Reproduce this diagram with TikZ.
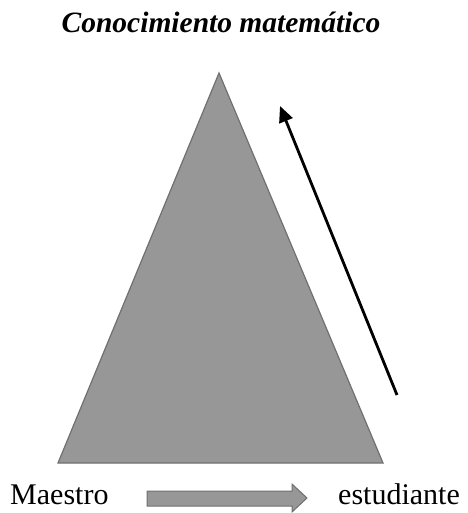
\documentclass[tikz,border=0pt]{standalone}
\usepackage{fontspec}
\setmainfont{Liberation Serif}
\usetikzlibrary{arrows.meta}
\definecolor{trifill}{HTML}{979797}
\definecolor{triline}{HTML}{707070}
\tikzset{
  shape3/.style={fill=trifill, draw=triline, line width=1.2pt, line join=miter},
  lbl/.style={inner sep=0pt, anchor=base west, font=\fontsize{30}{34}\selectfont},
}
\begin{document}
\begin{tikzpicture}[x=1pt,y=-1pt]
\useasboundingbox (0,0) rectangle (467,513);
% title
\node[inner sep=0pt, anchor=base, font=\fontsize{29.5}{34}\selectfont\bfseries\itshape] (title) at (221,33) {Conocimiento matemático};
% triangle
\coordinate (apex) at (219,73);
\coordinate (bl) at (58,463);
\coordinate (br) at (383,463);
\draw[shape3] (apex) -- (br) -- (bl) -- cycle;
% arrow
\coordinate (atail) at (397,395);
\coordinate (ahead) at (280,106);
\draw[line width=2.8pt, -{Triangle[length=16pt,width=14pt]}] (atail) -- (ahead);
% labels
\node[lbl] (maestro) at (10,504) {Maestro};
\node[lbl] (estud) at (338,504) {estudiante};
% block arrow
\draw[shape3, line width=1pt] (147,491) -- (292,491) -- (292,484) -- (307,498) -- (292,512) -- (292,506) -- (147,506) -- cycle;
\end{tikzpicture}
\end{document}
